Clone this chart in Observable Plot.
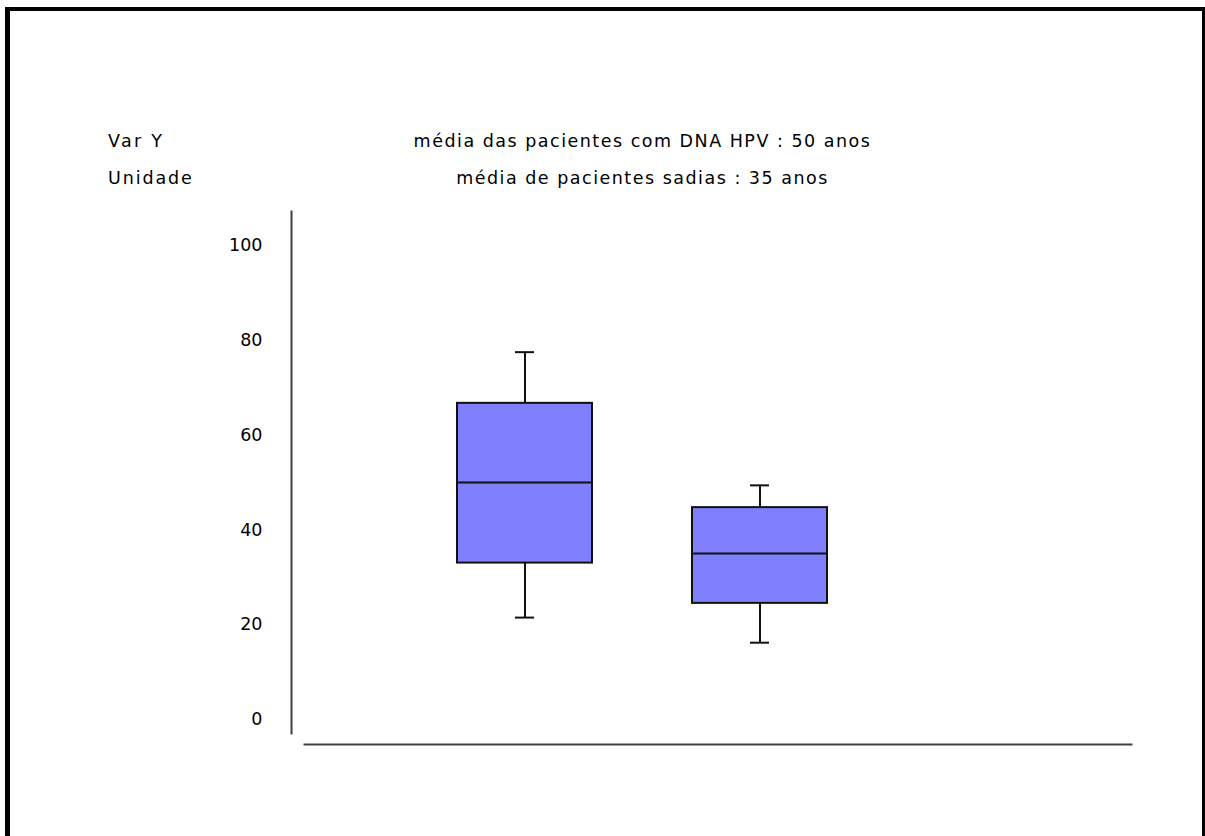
<!DOCTYPE html>
<html>
<head>
<meta charset="utf-8">
<script src="https://cdn.jsdelivr.net/npm/d3@7"></script>
<script src="https://cdn.jsdelivr.net/npm/@observablehq/plot@0.6"></script>
<style>
  html, body { margin: 0; padding: 0; background: #fff; }
  #wrap { position: relative; width: 1205px; height: 836px; overflow: hidden; background: #fff; }
  #border { position: absolute; left: 5px; top: 7px; width: 1192px; height: 840px;
            border-left: 5px solid #000; border-top: 4px solid #000; border-right: 4px solid #000; }
  .lbl { position: absolute; font-family: "DejaVu Sans", sans-serif; font-size: 17.5px; color: #000;
         letter-spacing: 1.5px; white-space: nowrap; line-height: 1; }
  #chart { position: absolute; left: 0; top: 0; }
  #chart svg g[aria-label="y-axis tick label"] text { letter-spacing: 1.5px; }
</style>
</head>
<body>
<div id="wrap">
  <div id="chart"></div>
  <div id="border"></div>
  <div class="lbl" id="varY" style="left:108px; top:133px; letter-spacing:2.3px;"></div>
  <div class="lbl" id="unit" style="left:108px; top:170px; letter-spacing:1.9px;"></div>
  <div class="lbl" id="sub1" style="left:0; width:1285px; text-align:center; top:133px;"></div>
  <div class="lbl" id="sub2" style="left:0; width:1285px; text-align:center; top:170px;"></div>
</div>
<script>
// ---- data ----
const groups = ["Pacientes com DNA HPV", "Pacientes sadias"];
const whiskerLow = [21.5, 16.2];
const q1 = [33, 24.5];
const median = [50, 35];
const q3 = [66.7, 44.7];
const whiskerHigh = [77.5, 49.4];
const yTicks = [0, 20, 40, 60, 80, 100];
const yLabel = "Var Y";
const unitLabel = "Unidade";
const subtitle1 = "média das pacientes com DNA HPV : 50 anos";
const subtitle2 = "média de pacientes sadias : 35 anos";

document.getElementById("varY").textContent = yLabel;
document.getElementById("unit").textContent = unitLabel;
document.getElementById("sub1").textContent = subtitle1;
document.getElementById("sub2").textContent = subtitle2;

const table = groups.map((g, i) => ({
  group: g, lo: whiskerLow[i], q1: q1[i], median: median[i], q3: q3[i], hi: whiskerHigh[i]
}));

const chart = Plot.plot({
  width: 1205,
  height: 836,
  marginTop: 245,
  marginBottom: 117,
  marginLeft: 291,
  marginRight: 74,
  style: { fontFamily: "DejaVu Sans, sans-serif", fontSize: "17.5px", color: "#000", background: "transparent" },
  x: { domain: groups, range: [356.5, 928], padding: 0.4268, axis: null },
  y: { domain: [0, 100], axis: null },
  marks: [
    Plot.axisY(yTicks, { tickSize: 0, tickPadding: 29, label: null, fontSize: 17.5, ariaLabel: "y-axis tick label" }),
    Plot.frame({ anchor: "left", insetTop: -34, insetBottom: -14, stroke: "#404040", strokeWidth: 2 }),
    Plot.frame({ anchor: "bottom", insetBottom: -25, insetLeft: 13, stroke: "#404040", strokeWidth: 2 }),
    Plot.ruleX(table, { x: "group", y1: "lo", y2: "hi", stroke: "#111", strokeWidth: 2 }),
    Plot.tickY(table, { x: "group", y: "lo", insetLeft: 58, insetRight: 58, stroke: "#111", strokeWidth: 2 }),
    Plot.tickY(table, { x: "group", y: "hi", insetLeft: 58, insetRight: 58, stroke: "#111", strokeWidth: 2 }),
    Plot.barY(table, { x: "group", y1: "q1", y2: "q3", fill: "#8080ff", stroke: "#111", strokeWidth: 2 }),
    Plot.tickY(table, { x: "group", y: "median", stroke: "#111", strokeWidth: 2 })
  ]
});
document.getElementById("chart").appendChild(chart);
</script>
</body>
</html>
